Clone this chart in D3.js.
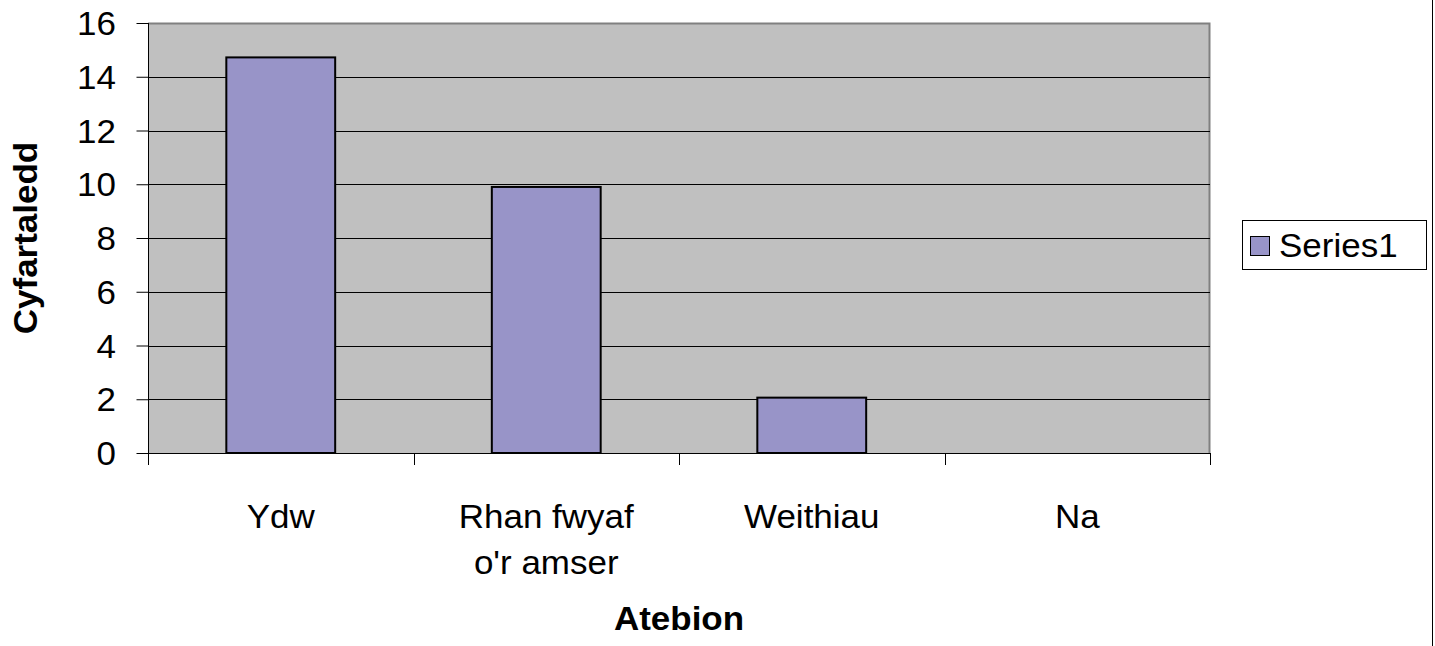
<script src="https://d3js.org/d3.v7.min.js"></script>
<style>
  body { margin: 0; background: #fff; }
  text { font-family: "Liberation Sans", Arial, sans-serif; }
</style>
<svg id="chart"></svg>
<script>
  // answers and their averages
  var categories = [["Ydw"], ["Rhan fwyaf", "o'r amser"], ["Weithiau"], ["Na"]];
  var values = [14.72, 9.9, 2.06, 0];
  var yTicks = [0, 2, 4, 6, 8, 10, 12, 14, 16];
  var seriesName = "Series1";

  var W = 1435, H = 646;
  var mLeft = 148, mRight = 1210, mTop = 23, mBottom = 453;
  var fs = 33, sx = 1.06; // the source font is drawn a little wide

  var svg = d3.select('#chart').attr('width', W).attr('height', H);

  var x = d3.scaleBand()
    .domain(d3.range(categories.length))
    .range([mLeft, mRight])
    .padding(0);

  var y = d3.scaleLinear()
    .domain([0, 16])
    .range([mBottom, mTop]);

  function wideText(g, px, py) {
    return g.append('text')
      .attr('transform', 'translate(' + px + ',' + py + ') scale(' + sx + ',1)')
      .attr('font-size', fs);
  }

  // plot area
  svg.append('rect')
    .attr('x', mLeft).attr('y', mTop)
    .attr('width', mRight - mLeft).attr('height', mBottom - mTop)
    .attr('fill', '#c0c0c0');

  // top and right border, grey
  svg.append('path')
    .attr('d', 'M' + mLeft + ',' + (mTop + 0.5) + 'H' + (mRight - 0.5) + 'V' + mBottom)
    .attr('stroke', '#808080').attr('stroke-width', 2).attr('fill', 'none');

  // gridlines
  svg.selectAll('.grid')
    .data(yTicks.filter(function(d) { return d > 0 && d < 16; }))
    .enter().append('line')
    .attr('x1', mLeft).attr('x2', mRight)
    .attr('y1', function(d) { return Math.round(y(d)) + 0.5; })
    .attr('y2', function(d) { return Math.round(y(d)) + 0.5; })
    .attr('stroke', '#000').attr('stroke-width', 1);

  // bars
  var barW = x.bandwidth() * 0.41;
  svg.selectAll('.bar')
    .data(values)
    .enter().append('rect')
    .attr('class', 'bar')
    .attr('x', function(d, i) { return x(i) + (x.bandwidth() - barW) / 2; })
    .attr('y', function(d) { return y(d); })
    .attr('width', barW)
    .attr('height', function(d) { return mBottom - y(d); })
    .attr('fill', '#9894c8')
    .attr('stroke', '#000')
    .attr('stroke-width', function(d) { return d > 0 ? 2 : 0; });

  // y axis
  var yAxis = d3.axisLeft(y).tickValues(yTicks).tickSize(12).tickFormat('');
  var gy = svg.append('g').attr('transform', 'translate(' + (mLeft + 0.5) + ',0)').call(yAxis);
  gy.select('.domain').attr('d', 'M0,' + (mBottom + 0.5) + 'V' + mTop).attr('stroke', '#000');
  gy.selectAll('.tick line').attr('stroke', '#000');
  yTicks.forEach(function(t) {
    wideText(svg, 116, y(t) + fs * 0.37)
      .attr('text-anchor', 'end')
      .text(t);
  });

  // x axis line and tick marks at category boundaries
  svg.append('line')
    .attr('x1', mLeft).attr('x2', mRight)
    .attr('y1', mBottom + 0.5).attr('y2', mBottom + 0.5)
    .attr('stroke', '#000');
  var bounds = d3.range(categories.length + 1).map(function(i) { return mLeft + i * x.step(); });
  svg.selectAll('.xtick')
    .data(bounds)
    .enter().append('line')
    .attr('x1', function(d) { return Math.round(d) + 0.5; })
    .attr('x2', function(d) { return Math.round(d) + 0.5; })
    .attr('y1', mBottom).attr('y2', mBottom + 12)
    .attr('stroke', '#000');

  // category labels
  categories.forEach(function(lines, i) {
    lines.forEach(function(s, j) {
      wideText(svg, x(i) + x.bandwidth() / 2, 528 + j * 46)
        .attr('text-anchor', 'middle')
        .text(s);
    });
  });

  // axis titles
  svg.append('text')
    .attr('transform', 'translate(37,' + ((mTop + mBottom) / 2) + ') rotate(-90) scale(' + sx + ',1)')
    .attr('text-anchor', 'middle')
    .attr('font-size', fs).attr('font-weight', 'bold')
    .text('Cyfartaledd');
  wideText(svg, (mLeft + mRight) / 2, 630)
    .attr('text-anchor', 'middle')
    .attr('font-weight', 'bold')
    .text('Atebion');

  // legend
  svg.append('rect')
    .attr('x', 1242.5).attr('y', 220.5).attr('width', 184).attr('height', 49)
    .attr('fill', '#fff').attr('stroke', '#000');
  svg.append('rect')
    .attr('x', 1250.5).attr('y', 236.5).attr('width', 19).attr('height', 19)
    .attr('fill', '#9894c8').attr('stroke', '#000');
  wideText(svg, 1279, 257).text(seriesName);

  // chart frame right edge
  svg.append('line')
    .attr('x1', 1432.5).attr('x2', 1432.5).attr('y1', 0).attr('y2', H)
    .attr('stroke', '#000');
</script>
